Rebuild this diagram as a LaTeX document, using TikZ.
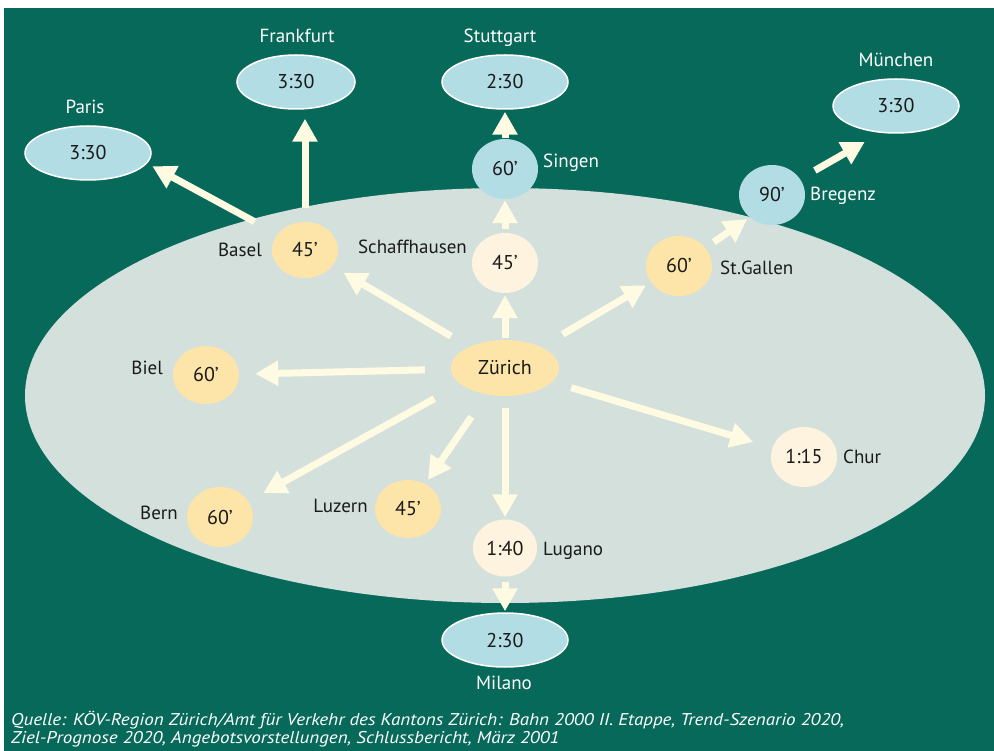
\documentclass[tikz,border=0pt]{standalone}
\usepackage{fontspec}
\setmainfont{PT Sans}
\newfontfamily\notefont{PT Sans}[FakeStretch=1.12]
\usetikzlibrary{arrows.meta,shapes.geometric}

\definecolor{bggreen}{HTML}{07695A}
\definecolor{region}{HTML}{D4E0DC}
\definecolor{extblue}{HTML}{B3DDE5}
\definecolor{hubor}{HTML}{FDE5A9}
\definecolor{cream}{HTML}{FEF3DF}
\definecolor{arrowcol}{HTML}{FEFBE2}
\definecolor{ink}{HTML}{1A1A1A}

\begin{document}
\begin{tikzpicture}[x=1pt,y=-1pt,
  txt/.style={font=\fontsize{19}{22}\selectfont},
  intxt/.style={font=\fontsize{20}{23}\selectfont},
  ext/.style={intxt, ellipse, fill=extblue, draw=white, line width=1.5pt,
    minimum width=126pt, minimum height=54pt, inner sep=0pt, text=ink},
  stop/.style={intxt, ellipse, fill=#1, minimum width=66pt, minimum height=58pt,
    inner sep=0pt, text=ink},
  hub/.style={intxt, ellipse, fill=hubor, minimum width=108pt, minimum height=56pt,
    inner sep=0pt, text=ink},
  lab/.style={txt, inner sep=0pt, text=ink},
  outlab/.style={txt, inner sep=0pt, text=white},
  arr/.style={draw=arrowcol, line width=7pt,
    -{Triangle[length=23pt,width=24pt]}},
  note/.style={font=\notefont\fontsize{17}{19}\selectfont\itshape, text=white, inner sep=0pt}
]
\useasboundingbox (0,0) rectangle (994,751);
% background panel and the region around Zürich
\fill[bggreen] (4,8) rectangle (994,751);
\fill[region] (505,395.5) ellipse [x radius=480pt, y radius=207.5pt];

% destinations outside the region
\node[ext] (par) at (88,153) {3:30};
\node[ext, minimum width=118pt] (fra) at (296,82) {3:30};
\node[ext] (stu) at (505,82) {2:30};
\node[ext] (mun) at (896,106) {3:30};
\node[ext] (mil) at (505,640) {2:30};

% stops
\node[stop=extblue, minimum height=60pt] (sin) at (505,169) {60’};
\node[stop=cream, minimum height=60pt] (sch) at (505,263) {45’};
\node[stop=hubor, minimum height=60pt] (stg) at (679,266) {60’};
\node[stop=extblue, minimum height=60pt] (bre) at (772,195) {90’};
\node[stop=hubor, minimum height=56pt] (bas) at (305,250) {45’};
\node[hub] (zur) at (505,368) {Zürich};
\node[stop=hubor] (luz) at (408,509) {45’};
\node[stop=cream, minimum width=64pt, minimum height=57pt] (lug) at (505,548) {1:40};
\node[stop=hubor] (bie) at (206,375) {60’};
\node[stop=hubor, minimum height=60pt] (ber) at (220,517) {60’};
\node[stop=cream, minimum height=60pt] (chu) at (804,457) {1:15};

% place names
\node[outlab, anchor=base] (parL) at (85,114) {Paris};
\node[outlab, anchor=base] (fraL) at (297,43) {Frankfurt};
\node[outlab, anchor=base] (stuL) at (500,43) {Stuttgart};
\node[outlab, anchor=base] (munL) at (896,67) {München};
\node[outlab, anchor=base] (milL) at (504,689) {Milano};
\node[outlab, anchor=base west] (sinL) at (543,168) {Singen};
\node[outlab, anchor=base west] (breL) at (810,201) {Bregenz};
\node[lab, anchor=base east] (schL) at (467,254) {Schaffhausen};
\node[lab, anchor=base east] (basL) at (262,257) {Basel};
\node[lab, anchor=base west] (stgL) at (720,275) {St.Gallen};
\node[lab, anchor=base east] (bieL) at (163,375) {Biel};
\node[lab, anchor=base east] (berL) at (178,519) {Bern};
\node[lab, anchor=base east] (luzL) at (368,512) {Luzern};
\node[lab, anchor=base west] (lugL) at (543,555) {Lugano};
\node[lab, anchor=base west] (chuL) at (843,463) {Chur};

% connections
\draw[arr, shorten <=26pt, shorten >=16pt] (zur) -- (bie);
\draw[arr, shorten <=30pt, shorten >=17pt] (zur.200) -- (ber);
\draw[arr, shorten <=27pt, shorten >=5pt] (zur) -- (luz);
\draw[arr, shorten <=12pt, shorten >=2pt] (zur) -- (lug);
\draw[arr, shorten <=20pt, shorten >=20pt] (zur) -- (chu);
\draw[arr, shorten <=25pt, shorten >=6pt] (zur) -- (stg);
\draw[arr, shorten <=2pt, shorten >=2pt] (zur) -- (sch);
\draw[arr, shorten <=21pt, shorten >=13pt] (zur) -- (bas);
\draw[arr, shorten <=4pt, shorten >=1pt] (sch) -- (sin);
\draw[arr, shorten <=1pt, shorten >=2pt] (sin) -- (stu);
\draw[arr, shorten <=5pt, shorten >=1pt] (lug) -- (mil);
\draw[arr, shorten <=10pt, shorten >=3pt] (stg) -- (bre.225);
\draw[arr, shorten <=17pt, shorten >=18pt] (bre) -- (mun.240);
\draw[arr, shorten <=26pt, shorten >=6pt] (bas.150) -- (par.-10);
\draw[arr, shorten <=14pt, shorten >=9pt] (bas.north) -- (bas.north |- fra.south);

% source note
\node[note, anchor=base west] (src1) at (11,725)
  {Quelle: KÖV-Region Zürich/Amt für Verkehr des Kantons Zürich: Bahn 2000 II. Etappe, Trend-Szenario 2020,};
\node[note, anchor=base west] (src2) at (11,743)
  {Ziel-Prognose 2020, Angebotsvorstellungen, Schlussbericht, März 2001};
\end{tikzpicture}
\end{document}
